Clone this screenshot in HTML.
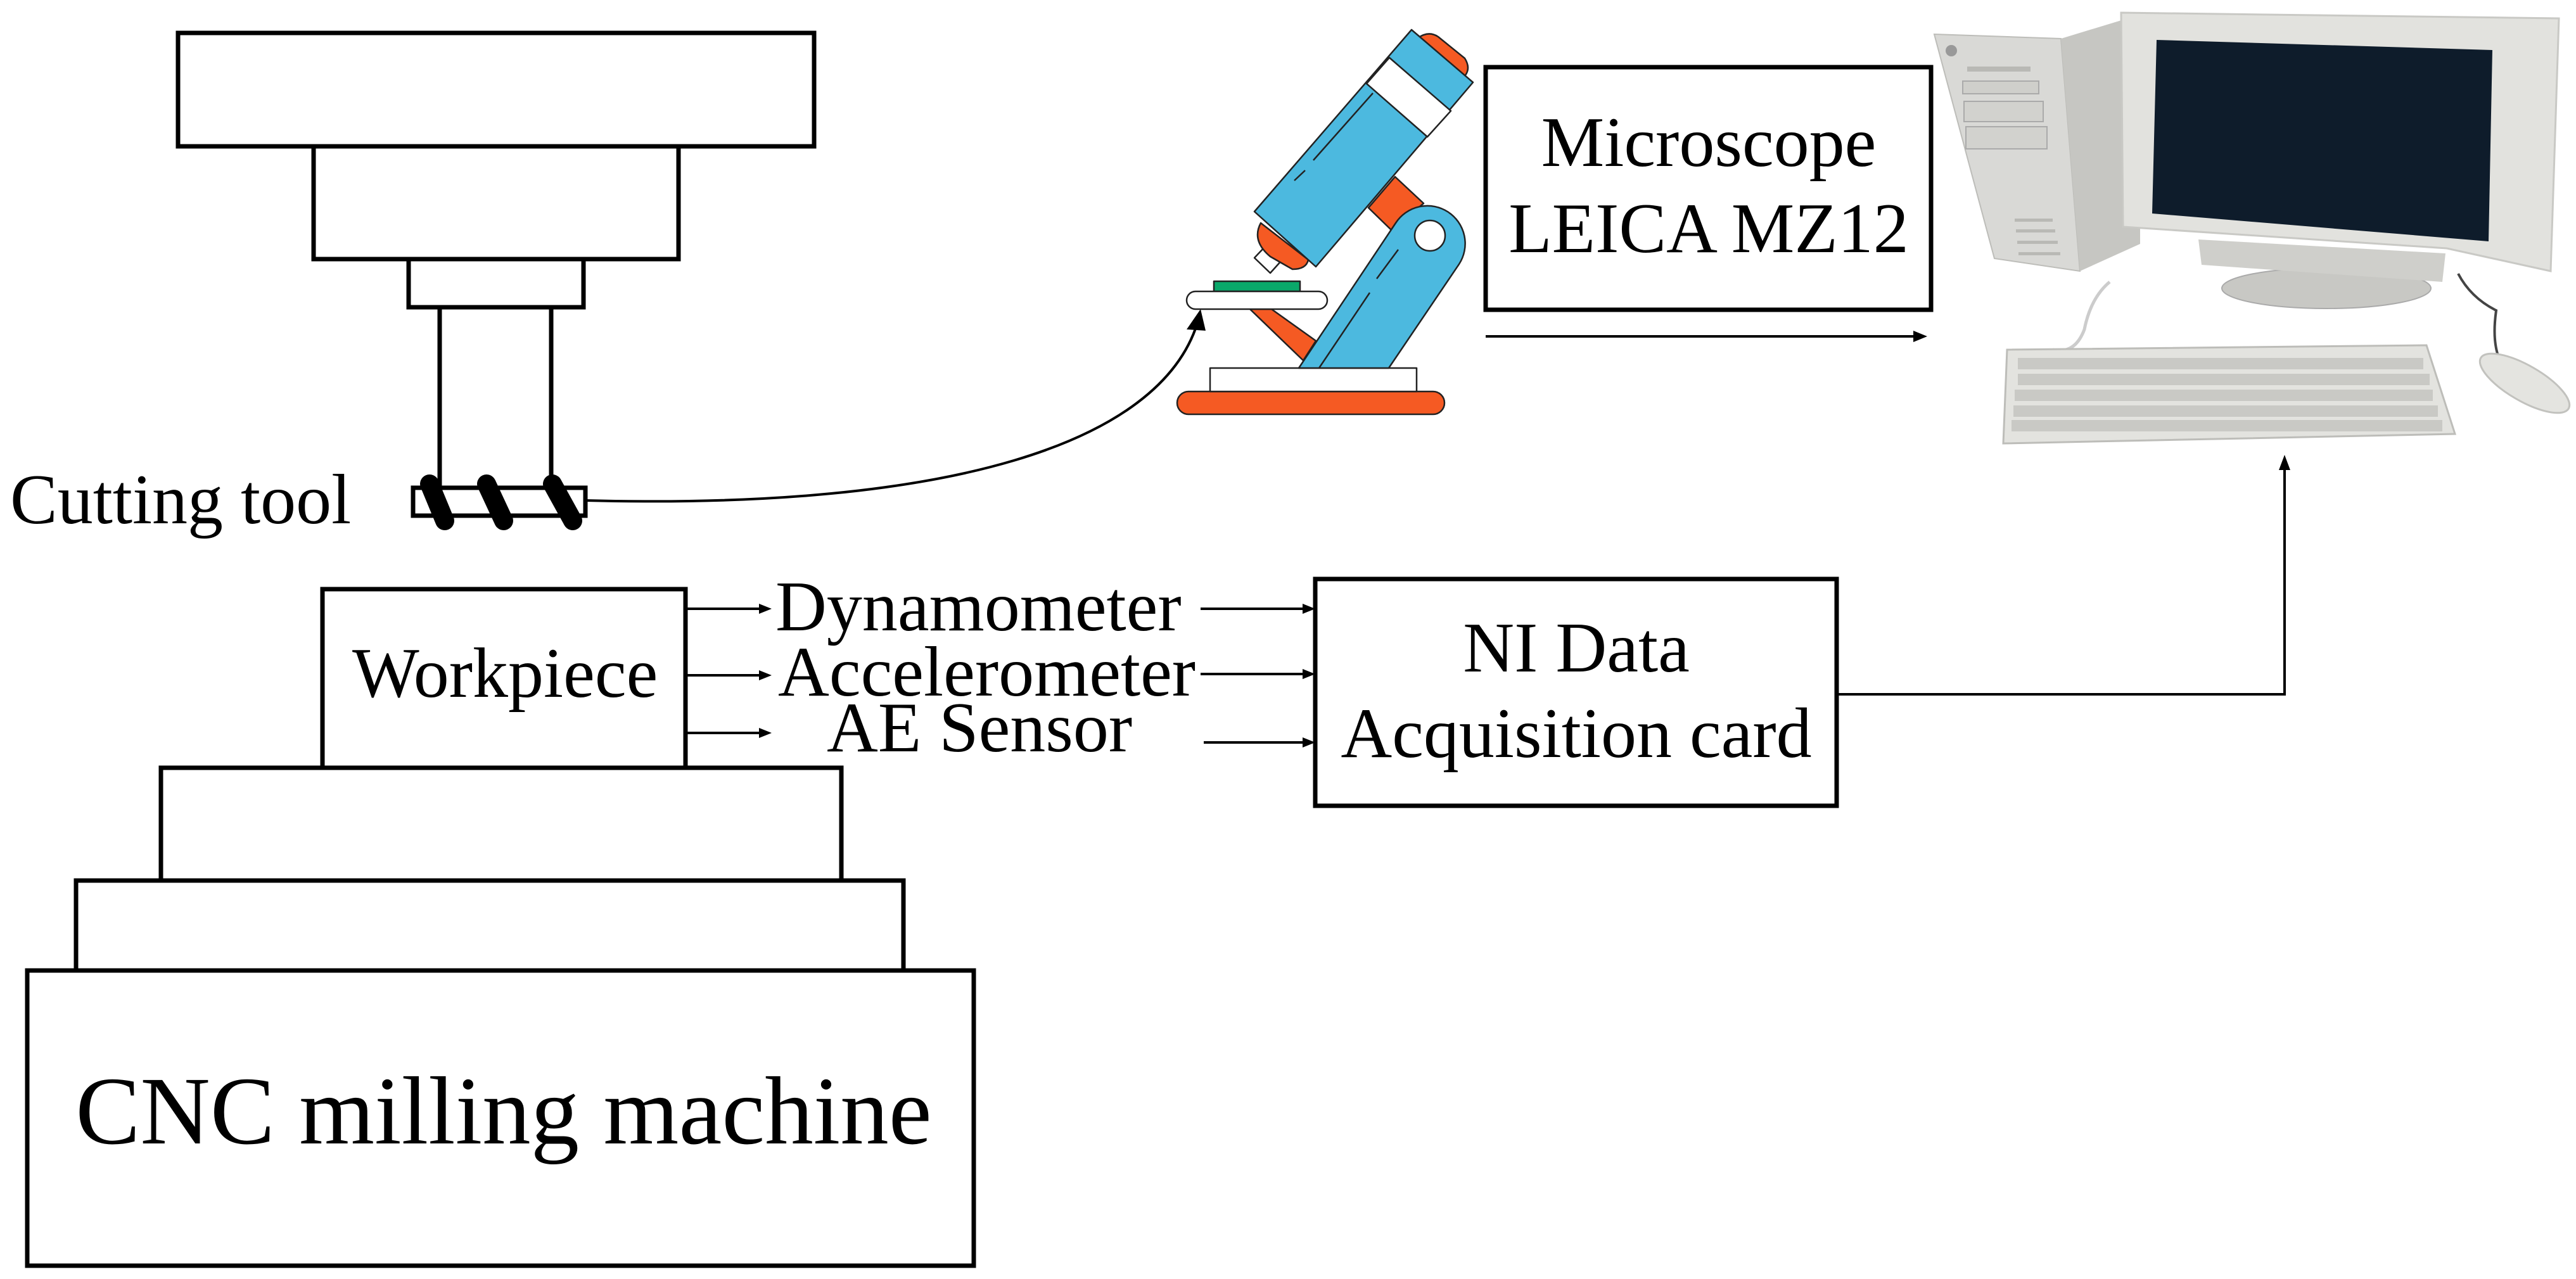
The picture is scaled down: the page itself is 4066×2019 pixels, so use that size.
<!DOCTYPE html>
<html><head><meta charset="utf-8"><style>
html,body{margin:0;padding:0;background:#fff;}
svg{display:block;}
text{font-family:"Liberation Serif","DejaVu Serif",serif;fill:#000;}
</style></head><body>
<svg width="4066" height="2019" viewBox="0 0 4066 2019" xmlns="http://www.w3.org/2000/svg">
<g fill="none" stroke="#000" stroke-width="7">
<rect x="281" y="52" width="1004" height="179"/>
<rect x="495" y="231" width="576" height="178"/>
<rect x="645" y="409" width="276" height="76"/>
<line x1="694" y1="485" x2="694" y2="770"/>
<line x1="870" y1="485" x2="870" y2="770"/>
<rect x="652" y="770" width="272" height="44"/>
<rect x="509" y="930" width="573" height="282"/>
<rect x="254" y="1212" width="1074" height="178"/>
<rect x="120" y="1390" width="1306" height="142"/>
<rect x="43" y="1532" width="1494" height="466"/>
<rect x="2345" y="106" width="703" height="383"/>
<rect x="2076" y="914" width="823" height="358"/>
</g>
<g stroke="#000" stroke-width="30" stroke-linecap="round">
<line x1="678" y1="764" x2="702" y2="822"/>
<line x1="768" y1="764" x2="795" y2="822"/>
<line x1="872" y1="764" x2="904" y2="822"/>
</g>
<g font-size="112">
<text x="16" y="826">Cutting tool</text>
<text x="556" y="1100">Workpiece</text>
<text x="1224" y="995">Dynamometer</text>
<text x="1228" y="1098">Accelerometer</text>
<text x="1305" y="1186">AE Sensor</text>
<text x="2697" y="262" text-anchor="middle">Microscope</text>
<text x="2697" y="398" text-anchor="middle">LEICA MZ12</text>
<text x="2488" y="1060" text-anchor="middle">NI Data</text>
<text x="2488" y="1195" text-anchor="middle">Acquisition card</text>
</g>
<text x="795" y="1805" font-size="153" text-anchor="middle">CNC milling machine</text>
<g stroke="#000" stroke-width="4" fill="none">
<line x1="1082" y1="961" x2="1200" y2="961"/>
<line x1="1082" y1="1066" x2="1200" y2="1066"/>
<line x1="1082" y1="1157" x2="1200" y2="1157"/>
<line x1="1895" y1="961" x2="2058" y2="961"/>
<line x1="1895" y1="1064" x2="2058" y2="1064"/>
<line x1="1900" y1="1172" x2="2058" y2="1172"/>
<line x1="2345" y1="531" x2="3022" y2="531"/>
<polyline points="2899,1096 3606,1096 3606,740"/>
<path d="M924,790 C1500,805 1830,700 1890,510"/>
</g>
<g fill="#000">
<polygon points="1218,961 1198,953 1198,969"/>
<polygon points="1218,1066 1198,1058 1198,1074"/>
<polygon points="1218,1157 1198,1149 1198,1165"/>
<polygon points="2076,961 2056,953 2056,969"/>
<polygon points="2076,1064 2056,1056 2056,1072"/>
<polygon points="2076,1172 2056,1164 2056,1180"/>
<polygon points="3042,531 3020,522 3020,540"/>
<polygon points="3606,718 3597,742 3615,742"/>
<polygon points="1895,488 1873,520 1903,522"/>
</g>
<g stroke="#222" stroke-width="2.5" stroke-linejoin="round">
<rect x="1858" y="618" width="422" height="36" rx="18" fill="#f55a23"/>
<rect x="1910" y="581" width="326" height="37" fill="#fff"/>
<polygon points="1973,488 2007,488 2077,538 2057,569" fill="#f55a23"/>
<polygon points="2160,328 2202,279 2247,321 2197,364" fill="#f55a23"/>
<path d="M2050,581 L2203,352 A58,58 0 0 1 2303,417 L2192,581 Z" fill="#4cb9df"/>
<circle cx="2257" cy="372" r="24" fill="#fff"/>
<rect x="1916" y="444" width="136" height="16" fill="#0aa86a"/>
<rect x="1873" y="460" width="222" height="28" rx="14" fill="#fff"/>
<polygon points="1980,407 1998,388 2023,411 2005,431" fill="#fff"/>
<path d="M1990,352 Q1975,380 2005,405 L2040,425 Q2062,425 2065,410 Z" fill="#f55a23"/>
<path d="M2238,60 Q2255,48 2270,58 L2312,92 Q2322,108 2312,120 Z" fill="#f55a23"/>
<polygon points="1980,334 2228,47 2325,130 2077,421" fill="#4cb9df"/>
<polygon points="2157,132 2193,91 2290,175 2253,216" fill="#fff"/>
<g fill="none" stroke-width="2.5">
<line x1="2043" y1="285" x2="2060" y2="269"/>
<line x1="2073" y1="253" x2="2167" y2="147"/>
<line x1="2173" y1="440" x2="2207" y2="394"/>
<line x1="2082" y1="581" x2="2162" y2="462"/>
</g>
</g>
<g>
<polygon points="3053,54 3253,61 3283,428 3148,408" fill="#d9d9d6" stroke="#bdbdb9" stroke-width="2"/>
<polygon points="3253,61 3378,23 3378,385 3283,428" fill="#c6c6c2"/>
<g fill="#b9b9b5">
<rect x="3105" y="105" width="100" height="8"/>
<rect x="3098" y="128" width="120" height="20" fill="#cfcfcb" stroke="#aaa" stroke-width="2"/>
<rect x="3100" y="160" width="125" height="32" fill="#d2d2ce" stroke="#aaa" stroke-width="2"/>
<rect x="3103" y="200" width="128" height="35" fill="#d2d2ce" stroke="#aaa" stroke-width="2"/>
<rect x="3180" y="345" width="60" height="5"/>
<rect x="3182" y="362" width="62" height="5"/>
<rect x="3184" y="380" width="64" height="5"/>
<rect x="3186" y="398" width="66" height="5"/>
</g>
<circle cx="3080" cy="80" r="9" fill="#999"/>
<ellipse cx="3672" cy="455" rx="165" ry="32" fill="#c8c8c4" stroke="#aaa" stroke-width="2"/>
<polygon points="3470,378 3860,400 3855,445 3475,418" fill="#cfcfcb"/>
<polygon points="3348,20 4039,29 4026,428 3862,392 3351,358" fill="#e2e2de" stroke="#c9c9c5" stroke-width="3"/>
<polygon points="3404,63 3934,79 3928,381 3397,337" fill="#0e1c2b"/>
<path d="M3330,445 Q3300,470 3290,520 Q3275,560 3240,552" fill="none" stroke="#ccc" stroke-width="5"/>
<path d="M3880,432 Q3900,470 3940,490 Q3930,560 3960,590" fill="none" stroke="#444" stroke-width="4"/>
<polygon points="3168,552 3830,545 3875,685 3162,700" fill="#e3e3df" stroke="#bdbdb9" stroke-width="3"/>
<g fill="#c9c9c5">
<rect x="3185" y="565" width="640" height="18"/>
<rect x="3185" y="590" width="650" height="18"/>
<rect x="3180" y="615" width="660" height="18"/>
<rect x="3178" y="640" width="670" height="18"/>
<rect x="3175" y="663" width="680" height="18"/>
</g>
<ellipse cx="3985" cy="605" rx="80" ry="28" transform="rotate(30 3985 605)" fill="#e4e4e0" stroke="#c2c2be" stroke-width="3"/>
</g>
</svg>
</body></html>
